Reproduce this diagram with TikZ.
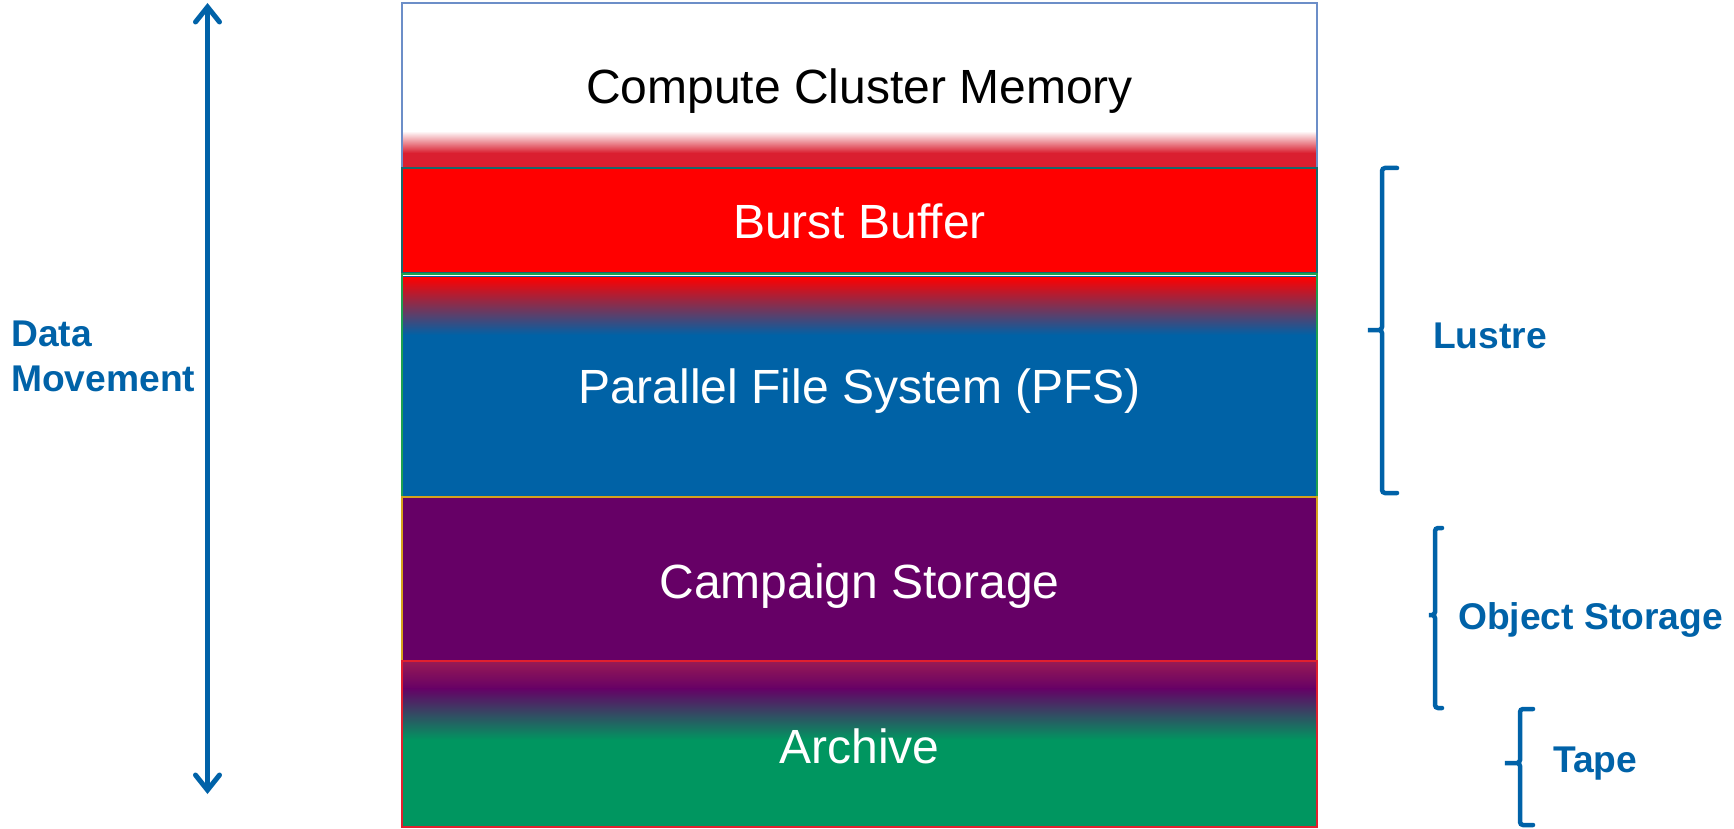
\documentclass[tikz,border=0pt]{standalone}
\usepackage{fontspec}
\setmainfont{Liberation Sans}
\usetikzlibrary{arrows.meta}
\definecolor{intelblue}{RGB}{0,98,168}
\definecolor{pfsblue}{RGB}{0,98,166}
\definecolor{crimsonband}{RGB}{218,31,48}
\definecolor{campurple}{RGB}{102,0,102}
\definecolor{archgreen}{RGB}{0,150,96}
\definecolor{archpink}{RGB}{150,26,85}
\definecolor{cmborder}{RGB}{108,142,200}
\definecolor{bbborder}{RGB}{23,105,107}
\definecolor{pfsborder}{RGB}{30,160,80}
\definecolor{csborder}{RGB}{212,162,28}
\definecolor{arborder}{RGB}{224,32,47}
\begin{document}
\begin{tikzpicture}[x=1pt,y=-1pt,
  layertext/.style={font=\fontsize{48}{58}\selectfont, anchor=base, inner sep=0pt},
  sidelabel/.style={font=\bfseries\fontsize{37.2}{45}\selectfont, text=intelblue, anchor=base west, inner sep=0pt},
  bracepath/.style={draw=intelblue, line width=4.5pt, rounded corners=3pt, line cap=round},
  layerborder/.style={line width=1.6pt}]
\useasboundingbox (0,0) rectangle (1734,829);

% Compute cluster memory
\fill[white] (402,3) rectangle (1317,168);
\shade[top color=white, bottom color=crimsonband] (402,131) rectangle (1317,153);
\fill[crimsonband] (402,153) rectangle (1317,168);
\draw[cmborder, layerborder] (402,3) rectangle (1317,168);

% Burst buffer
\fill[red] (402,168) rectangle (1317,273);
\draw[bbborder, layerborder] (402,168) rectangle (1317,273);

% PFS
\fill[pfsblue] (402,274) rectangle (1317,497);
\shade[top color=red, bottom color=pfsblue] (402,277) rectangle (1317,335);
\draw[white, line width=1.5pt] (403,275.5) -- (1316,275.5);
\draw[pfsborder, layerborder] (402,274) rectangle (1317,497);

% Campaign storage
\fill[campurple] (402,497) rectangle (1317,661);
\draw[csborder, layerborder] (402,497) rectangle (1317,661);

% Archive
\fill[archgreen] (402,661) rectangle (1317,827);
\shade[top color=archpink, bottom color=campurple] (402,662) rectangle (1317,689);
\shade[top color=campurple, bottom color=archgreen] (402,688) rectangle (1317,740);
\draw[arborder, layerborder] (402,661) rectangle (1317,827);

% Layer texts
\node[layertext, text=black] (cm) at (859.5,104) {Compute Cluster Memory};
\node[layertext, text=white] (bb) at (859.5,238) {Burst Buffer};
\node[layertext, text=white] (pfs) at (859.5,403) {Parallel File System (PFS)};
\node[layertext, text=white] (cs) at (859.5,598) {Campaign Storage};
\node[layertext, text=white] (ar) at (859.5,763) {Archive};

% Data movement arrow
\coordinate (dmtop) at (207.5,3);
\coordinate (dmbot) at (207.5,794);
\draw[intelblue, line width=5pt, {Straight Barb[length=15pt,width=24pt,line cap=round]}-{Straight Barb[length=15pt,width=24pt,line cap=round]}] (dmtop) -- (dmbot);
\node[sidelabel] (dm1) at (11,346) {Data};
\node[sidelabel] (dm2) at (11,391) {Movement};

% Braces
\draw[bracepath] (1397,168) -- (1382,168) -- (1382,330) -- (1366,330) -- (1382,330) -- (1382,493) -- (1397,493);
\node[sidelabel] (lustre) at (1433,348) {Lustre};

\draw[bracepath] (1442,528) -- (1435,528) -- (1435,615) -- (1427,615) -- (1435,615) -- (1435,708) -- (1442,708);
\node[sidelabel] (obj) at (1458,629) {Object Storage};

\draw[bracepath] (1533,709) -- (1520,709) -- (1520,763) -- (1503,763) -- (1520,763) -- (1520,825) -- (1533,825);
\node[sidelabel] (tape) at (1553,772) {Tape};
\end{tikzpicture}
\end{document}
